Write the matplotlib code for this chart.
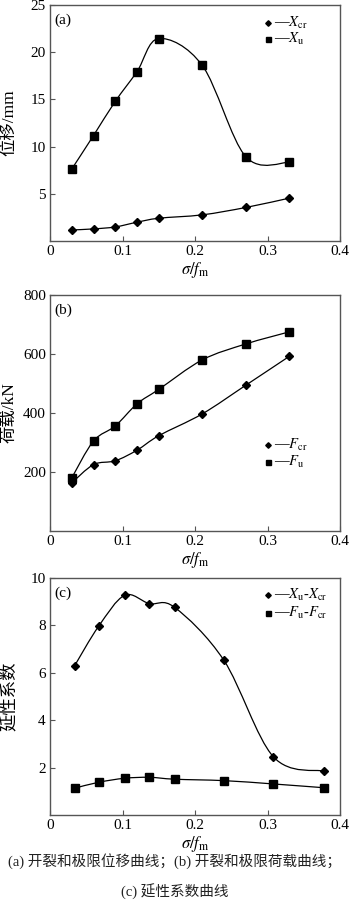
import numpy as np
import matplotlib
matplotlib.use('Agg')
import matplotlib.pyplot as plt
from matplotlib.path import Path
from matplotlib.patches import PathPatch

plt.rcParams['font.family'] = ['Liberation Serif', 'Noto Sans CJK SC']
plt.rcParams['mathtext.fontset'] = 'stix'
plt.rcParams['axes.unicode_minus'] = False

# (a) displacement
x_a = [0.03, 0.06, 0.09, 0.12, 0.15, 0.21, 0.27, 0.33]
x_cr = [1.17, 1.28, 1.49, 1.99, 2.41, 2.77, 3.55, 4.54]
x_u = [7.62, 11.17, 14.79, 17.94, 21.45, 18.6, 8.94, 8.33]

# (b) load
f_cr = [163, 225, 238, 274, 323, 397, 494, 592]
f_u = [180, 305, 356, 431, 480, 580, 634, 675]

# (c) ductility
x_c = [0.034, 0.067, 0.103, 0.137, 0.172, 0.240, 0.308, 0.378]
mu_x = [6.30, 7.96, 9.27, 8.92, 8.76, 6.52, 2.46, 1.85]
mu_f = [1.13, 1.38, 1.55, 1.59, 1.51, 1.45, 1.31, 1.15]

xticks = [0, 0.1, 0.2, 0.3, 0.4]
xticklabels = ['0', '0.1', '0.2', '0.3', '0.4']


def smooth(ax, x, y):
    # catmull-rom drawn as cubic bezier segments
    p = np.column_stack([x, y]).astype(float)
    ext = np.vstack([p[0], p, p[-1]])
    verts = [p[0]]
    codes = [Path.MOVETO]
    for i in range(len(p) - 1):
        a, b, c, d = ext[i], ext[i + 1], ext[i + 2], ext[i + 3]
        verts += [b + (c - a) / 6, c - (d - b) / 6, c]
        codes += [Path.CURVE4] * 3
    ax.add_patch(PathPatch(Path(verts, codes), fill=False, lw=0.9, ec='black'))


def series(ax, x, y, marker, ms):
    smooth(ax, x, y)
    ax.plot(x, y, ls='none', marker=marker, ms=ms, color='black', zorder=3)


def legend(ax, x0, ys, labels):
    for (y0, lab, m, ms) in zip(ys, labels, ['D', 's'], [2.8, 3.6]):
        ax.plot([x0], [y0], marker=m, ms=ms, color='black', transform=ax.transAxes)
        ax.text(x0 + 0.02, y0, '\u2014' + lab, transform=ax.transAxes,
                va='center', ha='left', fontsize=10.5)


def style(ax, ylim, yticks, ylabel, tag):
    ax.set_xlim(0, 0.4)
    ax.set_ylim(*ylim)
    ax.set_xticks(xticks)
    ax.set_xticklabels(xticklabels)
    ax.set_yticks(yticks)
    ax.tick_params(direction='in', length=3.5, width=0.8, color='#555555',
                   labelsize=11, pad=3)
    for s in ax.spines.values():
        s.set_color('#555555')
        s.set_linewidth(1.0)
    ax.set_xlabel(r'$\sigma/f_{\rm m}$', fontsize=12, labelpad=1)
    ax.set_ylabel(ylabel, fontsize=12.5)
    ax.yaxis.set_label_coords(-0.112, 0.5)
    ax.text(0.015, 0.965, tag, transform=ax.transAxes, fontsize=11, va='top')


fig = plt.figure(figsize=(3.5, 9.06), dpi=100)
H = 906.0

ax1 = fig.add_axes([50 / 350, 1 - 241 / H, 290 / 350, 236 / H])
series(ax1, x_a, x_cr, 'D', 4.2)
series(ax1, x_a, x_u, 's', 5.2)
style(ax1, (0, 25), [5, 10, 15, 20, 25], '位移/mm', '(a)')
legend(ax1, 0.752, [0.924, 0.856], [r'$X_{\rm cr}$', r'$X_{\rm u}$'])

ax2 = fig.add_axes([50 / 350, 1 - 531 / H, 290 / 350, 236 / H])
series(ax2, x_a, f_cr, 'D', 4.2)
series(ax2, x_a, f_u, 's', 5.2)
style(ax2, (0, 800), [200, 400, 600, 800], '荷载/kN', '(b)')
legend(ax2, 0.752, [0.364, 0.292], [r'$F_{\rm cr}$', r'$F_{\rm u}$'])

ax3 = fig.add_axes([50 / 350, 1 - 815 / H, 290 / 350, 237 / H])
series(ax3, x_c, mu_x, 'D', 4.2)
series(ax3, x_c, mu_f, 's', 5.2)
style(ax3, (0, 10), [2, 4, 6, 8, 10], '延性系数', '(c)')
legend(ax3, 0.752, [0.928, 0.852],
       [r'$X_{\rm u}$-$X_{\rm cr}$', r'$F_{\rm u}$-$F_{\rm cr}$'])

fig.text(0.5, 1 - 861 / H, '(a) 开裂和极限位移曲线；(b) 开裂和极限荷载曲线；',
         ha='center', va='center', fontsize=10.5, color='#222222')
fig.text(0.5, 1 - 892 / H, '(c) 延性系数曲线',
         ha='center', va='center', fontsize=10.5, color='#222222')

fig.savefig('out.png', dpi=100)
